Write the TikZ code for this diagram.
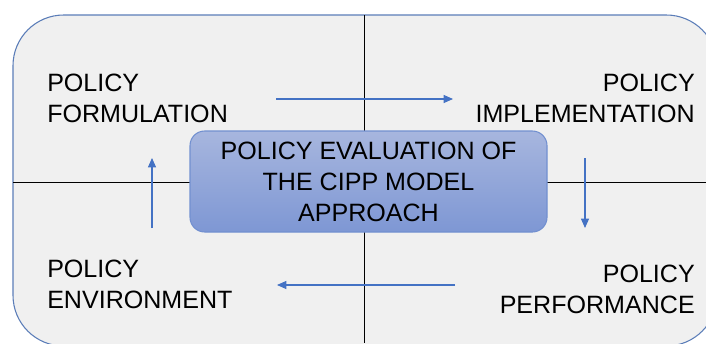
\documentclass[tikz,border=0pt]{standalone}
\usepackage{fontspec}
\setmainfont{Liberation Sans}
\usetikzlibrary{arrows.meta}
\definecolor{frameblue}{HTML}{5B7DB8}
\definecolor{panelgray}{HTML}{F0F0F0}
\definecolor{flowblue}{HTML}{4472C4}
\definecolor{boxtop}{HTML}{A7B6DE}
\definecolor{boxbottom}{HTML}{7E97D4}
\definecolor{boxline}{HTML}{7290D0}
\begin{document}
\begin{tikzpicture}[x=0.75pt, y=-0.75pt,
    every node/.style={font=\fontsize{18.8}{23.2}\selectfont, inner sep=0pt},
    flow/.style={draw=flowblue, line width=0.8pt, -{Triangle[length=7pt, width=6pt]}}]
      \clip (0,0) rectangle (706,343);
      \draw[frameblue, fill=panelgray, line width=0.8pt, rounded corners=38pt] (13,15) rectangle (717,346);
      \coordinate (top) at (364,15);
      \coordinate (bottom) at (364,343);
      \coordinate (left) at (13,182);
      \coordinate (right) at (706,182);
      \draw[black, line width=0.7pt] (top) -- (bottom);
      \draw[black, line width=0.7pt] (left) -- (right);
      \node (cipp) at (368.5,181.5) [draw=boxline, line width=0.8pt, rounded corners=11pt, top color=boxtop, bottom color=boxbottom,
          minimum width=267.75pt, minimum height=75.75pt, align=center] {POLICY EVALUATION OF\\THE CIPP MODEL\\APPROACH};
      \node (form) at (47,122) [anchor=base west, align=left] {POLICY\\FORMULATION};
      \node (impl) at (695,122) [anchor=base east, align=right] {POLICY\\IMPLEMENTATION};
      \node (perf) at (695,313) [anchor=base east, align=right] {POLICY\\PERFORMANCE};
      \node (env) at (47,308) [anchor=base west, align=left] {POLICY\\ENVIRONMENT};
      \coordinate (a1) at (276,99);  \coordinate (a2) at (453,99);
      \coordinate (b1) at (585,158); \coordinate (b2) at (585,228);
      \coordinate (c1) at (455,285); \coordinate (c2) at (277,285);
      \coordinate (d1) at (152,228); \coordinate (d2) at (152,158);
      \foreach \source/\dest in {a1/a2, b1/b2, c1/c2, d1/d2}
        \draw[flow] (\source) -- (\dest);
    \end{tikzpicture}
\end{document}
